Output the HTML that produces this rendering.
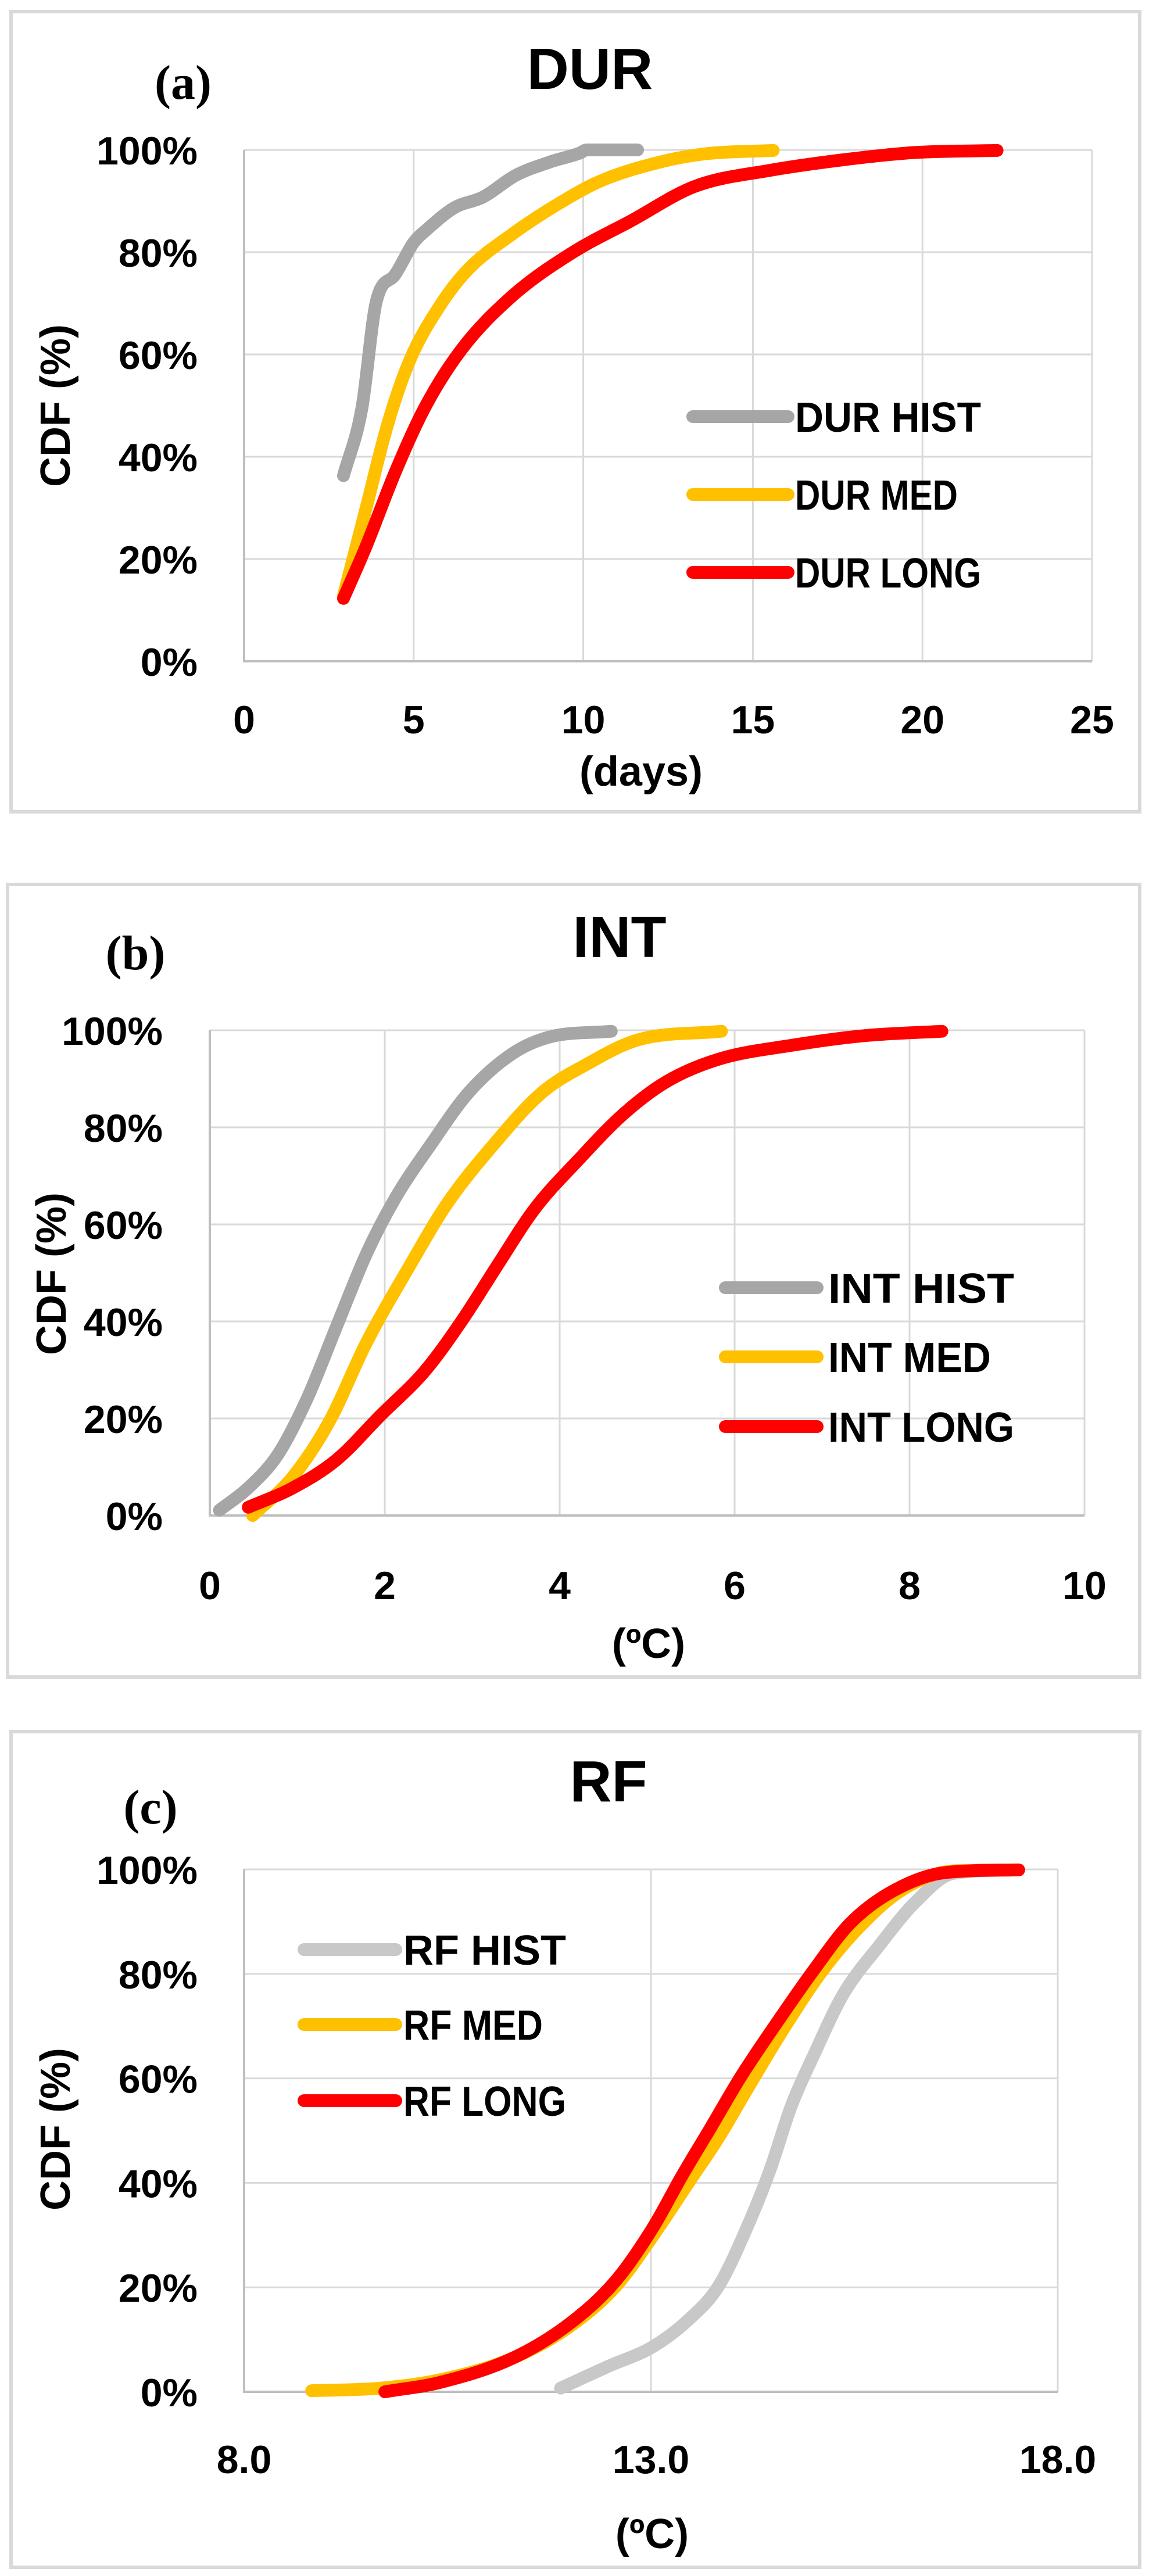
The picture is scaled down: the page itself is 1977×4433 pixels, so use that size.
<!DOCTYPE html>
<html><head><meta charset="utf-8"><style>
html,body{margin:0;padding:0;background:#fff;}
svg{display:block;}
</style></head><body>
<svg id="fig" width="1977" height="4433" viewBox="0 0 1977 4433" xmlns="http://www.w3.org/2000/svg"></svg>
<script>
// ---- data ----
const durHistX=[2.93,3.47,3.9,4.45,5.0,5.4,6.2,7.05,8.0,9.0,9.9,10.1,11.6];
const durHistY=[36.3,49.4,70.4,75.6,81.9,84.5,88.7,90.8,95,97.6,99.4,100,100];
const durMedX=[2.93,3.58,4.23,4.88,5.75,6.6,7.9,9.2,10.5,12.25,13.55,15.6];
const durMedY=[12.8,29.5,46.3,58.8,69.3,76.6,83.5,89.2,93.9,97.6,99.2,99.9];
const durLongX=[2.93,3.58,4.45,5.31,6.4,7.9,9.65,11.4,13.3,15.5,17.7,19.8,22.2];
const durLongY=[12.3,22.2,36.9,49.4,60.9,71.4,79.8,86.1,92.9,96,98.1,99.5,99.9];

const intHistX=[0.11,0.44,0.78,1.11,1.45,1.79,2.12,2.54,2.96,3.46,3.88,4.59];
const intHistY=[1.1,5.7,12.6,24,39,53.9,65.4,76.8,87.2,95.2,98.6,99.8];
const intMedX=[0.49,0.95,1.37,1.79,2.29,2.71,3.21,3.8,4.3,4.89,5.85];
const intMedY=[0,8,19.5,35.6,51.6,64.2,75.7,87.2,92.9,98,99.8];
const intLongX=[0.44,0.95,1.45,1.95,2.46,2.88,3.29,3.71,4.22,4.72,5.22,5.81,6.65,7.49,8.37];
const intLongY=[1.7,5.7,11.5,20.6,29.8,40.1,51.6,63.1,73.4,82.6,89.4,94,96.9,98.9,99.8];

const rfHistX=[11.89,12.48,13.02,13.47,13.83,14.19,14.46,14.73,15.0,15.36,15.81,16.26,16.71,17.48];
const rfHistY=[0.7,4.9,8.6,13.9,20.2,31.8,42.3,54.9,64.4,76,85.5,93.9,99.2,99.9];
const rfMedX=[8.83,9.68,10.41,11.31,12.03,12.57,13.02,13.47,13.83,14.19,14.64,15.09,15.54,16.08,16.71,17.48];
const rfMedY=[0.2,0.7,2.3,6.5,12.8,20.2,29.7,40.2,48.6,58.1,69.7,80.2,88.6,96,99.7,99.9];
const rfLongX=[9.73,10.41,11.31,12.03,12.57,13.02,13.38,13.74,14.1,14.55,15.0,15.45,15.99,16.62,17.52];
const rfLongY=[0,1.8,6.5,13.4,21.3,31.3,41.3,50.7,60.2,70.7,80.7,89.7,96,99.4,99.9];

const yTicks=[0,20,40,60,80,100];
const durXTicks=[0,5,10,15,20,25];
const intXTicks=[0,2,4,6,8,10];
const rfXTicks=[8,13,18];

const NS='http://www.w3.org/2000/svg';
const svg=document.getElementById('fig');
function mk(tag,attrs,parent){const e=document.createElementNS(NS,tag);for(const k in attrs)e.setAttribute(k,attrs[k]);(parent||svg).appendChild(e);return e;}
function txt(s,attrs,parent){const e=mk('text',attrs,parent);e.textContent=s;return e;}

// monotone cubic path through pixel points (x increasing)
function monoPath(px,py){
  const n=px.length;
  if(n<2)return '';
  const d=[],m=new Array(n);
  for(let i=0;i<n-1;i++)d.push((py[i+1]-py[i])/(px[i+1]-px[i]));
  m[0]=d[0];m[n-1]=d[n-2];
  for(let i=1;i<n-1;i++){m[i]=(d[i-1]*d[i]<=0)?0:(d[i-1]+d[i])/2;}
  for(let i=0;i<n-1;i++){
    if(d[i]===0){m[i]=0;m[i+1]=0;continue;}
    const a=m[i]/d[i],b=m[i+1]/d[i],s=a*a+b*b;
    if(s>9){const t=3/Math.sqrt(s);m[i]=t*a*d[i];m[i+1]=t*b*d[i];}
  }
  let p='M'+px[0].toFixed(1)+','+py[0].toFixed(1);
  for(let i=0;i<n-1;i++){
    const h=(px[i+1]-px[i])/3;
    p+='C'+(px[i]+h).toFixed(1)+','+(py[i]+m[i]*h).toFixed(1)+' '+(px[i+1]-h).toFixed(1)+','+(py[i+1]-m[i+1]*h).toFixed(1)+' '+px[i+1].toFixed(1)+','+py[i+1].toFixed(1);
  }
  return p;
}

const GRAY='#a6a6a6',YEL='#ffc000',RED='#ff0000';
const panels=[
 {id:'dur',border:[19,20,1942,1377],title:'DUR',tx:1015,ty:153,lab:'(a)',lx:315,ly:170,
  L:420,R:1879,T:258,B:1138,xmin:0,xmax:25,xt:durXTicks,xfmt:v=>String(v),ylabR:340,xly:1262,
  xtitle:'(days)',xtx:1103,xty:1352,cdfx:95,cdfy:698,
  series:[['DUR HIST',GRAY,durHistX,durHistY],['DUR MED',YEL,durMedX,durMedY],['DUR LONG',RED,durLongX,durLongY]],
  legX1:1192,legX2:1356,legT:1368,legY:[717,851,985]},
 {id:'int',border:[13,1522,1948,1364],title:'INT',tx:1066,ty:1647,lab:'(b)',lx:233,ly:1668,
  L:361,R:1866,T:1773,B:2608,xmin:0,xmax:10,xt:intXTicks,xfmt:v=>String(v),ylabR:280,xly:2752,
  xtitle:'(ºC)',xtx:1116,xty:2853,cdfx:88,cdfy:2192,
  series:[['INT HIST',GRAY,intHistX,intHistY],['INT MED',YEL,intMedX,intMedY],['INT LONG',RED,intLongX,intLongY]],
  legX1:1248,legX2:1406,legT:1425,legY:[2216,2335,2455]},
 {id:'rf',border:[19,2980,1942,1438],title:'RF',tx:1047,ty:3100,lab:'(c)',lx:259,ly:3138,
  L:420,R:1820,T:3217,B:4116,xmin:8,xmax:18,xt:rfXTicks,xfmt:v=>v.toFixed(1),ylabR:340,xly:4256,
  xtitle:'(ºC)',xtx:1122,xty:4385,cdfx:95,cdfy:3664,
  series:[['RF HIST','#c8c8c8',rfHistX,rfHistY],['RF MED',YEL,rfMedX,rfMedY],['RF LONG',RED,rfLongX,rfLongY]],
  legX1:523,legX2:681,legT:694,legY:[3355,3484,3615]}
];

panels.forEach(p=>{
  const g=mk('g',{});
  
  
  const b=mk('rect',{x:p.border[0],y:p.border[1],width:p.border[2],height:p.border[3],fill:'#fff',stroke:'#d9d9d9','stroke-width':6},g);
  
  
  const sx=v=>p.L+(v-p.xmin)/(p.xmax-p.xmin)*(p.R-p.L);
  const sy=v=>p.B-v/100*(p.B-p.T);
  yTicks.forEach(t=>{
    const l=mk('line',{x1:p.L,x2:p.R,y1:sy(t),y2:sy(t),stroke:'#d9d9d9','stroke-width':3},g);
    
    
    const tl=txt(t+'%',{x:p.ylabR,y:sy(t)+25,'text-anchor':'end','font-family':'Liberation Sans, sans-serif','font-weight':'bold','font-size':68,fill:'#000'},g);
    
    
  });
  p.xt.forEach(t=>{
    const l=mk('line',{x1:sx(t),x2:sx(t),y1:p.T,y2:p.B,stroke:'#d9d9d9','stroke-width':3},g);
    
    
    const tl=txt(p.xfmt(t),{x:sx(t),y:p.xly,'text-anchor':'middle','font-family':'Liberation Sans, sans-serif','font-weight':'bold','font-size':68,fill:'#000'},g);
    
    
  });
  const ax=mk('path',{d:`M${p.L},${p.T}V${p.B}H${p.R}`,fill:'none',stroke:'#bfbfbf','stroke-width':4},g);
  
  
  p.series.forEach(s=>{
    const px=s[2].map(sx),py=s[3].map(sy);
    const pl=mk('path',{d:monoPath(px,py),fill:'none',stroke:s[1],'stroke-width':22,'stroke-linecap':'round','stroke-linejoin':'round'},g);
    
    
  });
  p.series.forEach((s,i)=>{
    const ll=mk('line',{x1:p.legX1,x2:p.legX2,y1:p.legY[i],y2:p.legY[i],stroke:s[1],'stroke-width':22,'stroke-linecap':'round'},g);
    
    
    const lt=txt(s[0],{x:p.legT,y:p.legY[i]+26,'font-family':'Liberation Sans, sans-serif','font-weight':'bold','font-size':72,fill:'#000',textLength:Math.round(s[0].length*40),lengthAdjust:'spacingAndGlyphs'},g);
    
    
  });
  const ti=txt(p.title,{x:p.tx,y:p.ty,'text-anchor':'middle','font-family':'Liberation Sans, sans-serif','font-weight':'bold','font-size':100,fill:'#000'},g);
  
  
  const la=txt(p.lab,{x:p.lx,y:p.ly,'text-anchor':'middle','font-family':'Liberation Serif, serif','font-weight':'bold','font-size':84,fill:'#000'},g);
  
  
  const xt=txt(p.xtitle,{x:p.xtx,y:p.xty,'text-anchor':'middle','font-family':'Liberation Sans, sans-serif','font-weight':'bold','font-size':72,fill:'#000'},g);
  
  
  const yt=txt('CDF (%)',{x:p.cdfx,y:p.cdfy,'text-anchor':'middle','font-family':'Liberation Sans, sans-serif','font-weight':'bold','font-size':72,fill:'#000',transform:`rotate(-90 ${p.cdfx} ${p.cdfy}) translate(0 25)`},g);
  
  
});
</script>
</body></html>
